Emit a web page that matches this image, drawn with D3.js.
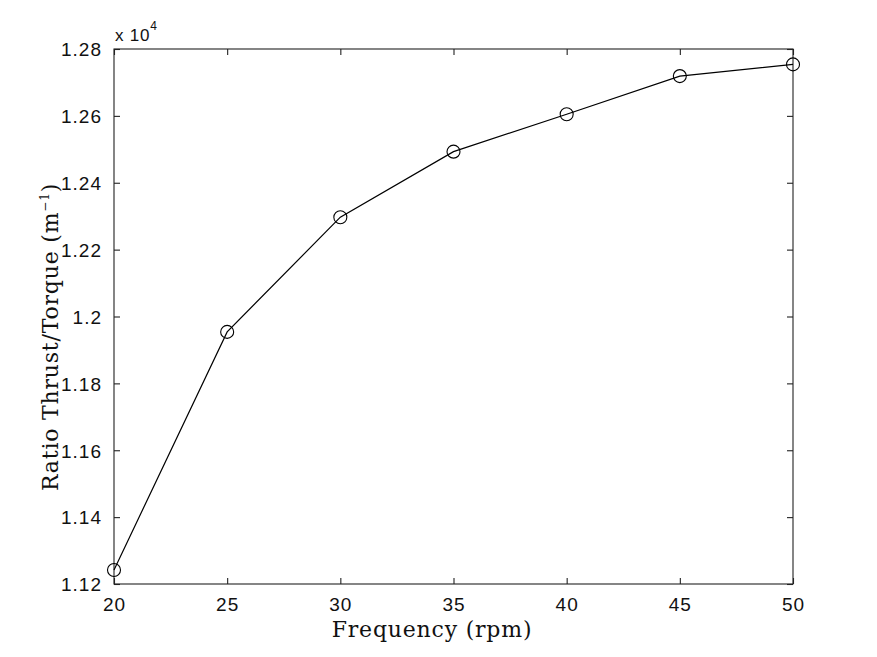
<!DOCTYPE html>
<html>
<head>
<meta charset="utf-8">
<script src="https://cdn.jsdelivr.net/npm/d3@7"></script>
<style>
  html, body { margin: 0; padding: 0; background: #fff; }
  svg { display: block; }
  .tick-label { font-family: "Liberation Sans", Arial, sans-serif; font-size: 19px; fill: #111; letter-spacing: 1px; }
  .exp-label { font-family: "Liberation Sans", Arial, sans-serif; font-size: 17px; fill: #111; letter-spacing: 0.8px; }
  .axis-title { font-family: "DejaVu Serif", "Liberation Serif", serif; font-size: 22px; fill: #111; letter-spacing: 0.8px; }
</style>
</head>
<body>
<svg id="chart" width="877" height="657"></svg>
<script>
// ---- data ----
const frequency = [20, 25, 30, 35, 40, 45, 50];
const ratio = [11242, 11954, 12297, 12493, 12605, 12719, 12754];
const xTicks = [20, 25, 30, 35, 40, 45, 50];
const yTicks = [11200, 11400, 11600, 11800, 12000, 12200, 12400, 12600, 12800];
const yTickLabels = ["1.12", "1.14", "1.16", "1.18", "1.2", "1.22", "1.24", "1.26", "1.28"];
const xTitle = "Frequency (rpm)";

const svg = d3.select("#chart");
const L = 114, R = 793, T = 49, B = 584;
const x = d3.scaleLinear().domain([20, 50]).range([L, R]);
const y = d3.scaleLinear().domain([11200, 12800]).range([B, T]);
const tickLen = 6;

// frame
svg.append("rect").attr("x", L).attr("y", T).attr("width", R - L).attr("height", B - T)
  .attr("fill", "none").attr("stroke", "#222").attr("stroke-width", 1.1);

// axes with inward ticks
const gx = svg.append("g").attr("transform", `translate(0,${B})`)
  .call(d3.axisBottom(x).tickValues(xTicks).tickSize(-tickLen).tickPadding(14).tickFormat(d3.format("d")));
const gxTop = svg.append("g").attr("transform", `translate(0,${T})`)
  .call(d3.axisTop(x).tickValues(xTicks).tickSize(-tickLen).tickFormat(""));
const gy = svg.append("g").attr("transform", `translate(${L},0)`)
  .call(d3.axisLeft(y).tickValues(yTicks).tickSize(-tickLen).tickPadding(12)
    .tickFormat((d, i) => yTickLabels[i]));
const gyR = svg.append("g").attr("transform", `translate(${R},0)`)
  .call(d3.axisRight(y).tickValues(yTicks).tickSize(-tickLen).tickFormat(""));

[gx, gxTop, gy, gyR].forEach(g => {
  g.select(".domain").remove();
  g.selectAll(".tick line").attr("stroke", "#222").attr("stroke-width", 1.1);
  g.selectAll(".tick text").attr("class", "tick-label").attr("fill", "#111");
  g.attr("font-size", null).attr("font-family", null);
});
gy.selectAll(".tick text").attr("dy", "0.36em");
gx.selectAll(".tick text").attr("dy", "0.7em");

// exponent label
const ex = svg.append("text").attr("class", "exp-label").attr("x", L + 1).attr("y", 41);
ex.append("tspan").text("x 10");
ex.append("tspan").attr("dy", -11).style("font-size", "12px").text("4");

// line + markers
const line = d3.line().x((d, i) => x(frequency[i])).y(d => y(d));
svg.append("path").datum(ratio).attr("d", line)
  .attr("fill", "none").attr("stroke", "#000").attr("stroke-width", 1.2);
svg.selectAll("circle.pt").data(ratio).join("circle").attr("class", "pt")
  .attr("cx", (d, i) => x(frequency[i])).attr("cy", d => y(d)).attr("r", 6.5)
  .attr("fill", "none").attr("stroke", "#000").attr("stroke-width", 1.1);

// axis titles
svg.append("text").attr("class", "axis-title").attr("x", 432).attr("y", 637)
  .attr("text-anchor", "middle").text(xTitle);

const yt = svg.append("text").attr("class", "axis-title")
  .attr("transform", "translate(58,337) rotate(-90)").attr("text-anchor", "middle");
yt.append("tspan").text("Ratio Thrust/Torque (m");
yt.append("tspan").attr("dy", -9).style("font-size", "12px").text("−1");
yt.append("tspan").attr("dy", 9).text(")");
</script>
</body>
</html>
